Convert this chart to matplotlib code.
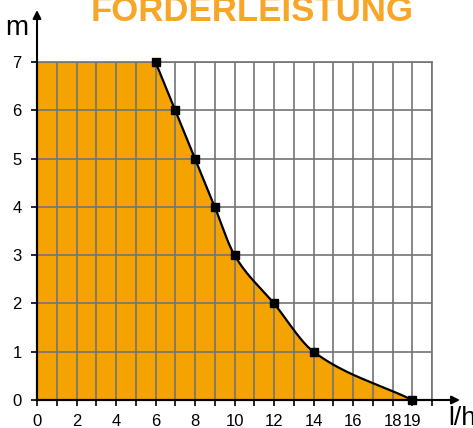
import numpy as np
import matplotlib.pyplot as plt

# pump curve: delivery head (m) over flow rate (l/h)
flow = [0, 6, 7, 8, 9, 10, 12, 14, 19]
head = [7, 7, 6, 5, 4, 3, 2, 1, 0]
marked_flow = [6, 7, 8, 9, 10, 12, 14, 19]
marked_head = [7, 6, 5, 4, 3, 2, 1, 0]
x_labels = [0, 2, 4, 6, 8, 10, 12, 14, 16, 18, 19]
y_labels = [0, 1, 2, 3, 4, 5, 6, 7]

FILL = "#F5A300"
TITLE = "#F7A628"


def monotone_curve(x, y, n=40):
    """Fritsch-Carlson monotone cubic through the given points."""
    x = np.asarray(x, float)
    y = np.asarray(y, float)
    h = np.diff(x)
    d = np.diff(y) / h
    m = np.zeros_like(x)
    for k in range(1, len(x) - 1):
        if d[k - 1] * d[k] > 0:
            w1 = 2 * h[k] + h[k - 1]
            w2 = h[k] + 2 * h[k - 1]
            m[k] = (w1 + w2) / (w1 / d[k - 1] + w2 / d[k])
    m[0] = d[0]
    m[-1] = d[-1]
    xs, ys = [], []
    for k in range(len(x) - 1):
        t = np.linspace(0, 1, n)
        h00 = 2 * t**3 - 3 * t**2 + 1
        h10 = t**3 - 2 * t**2 + t
        h01 = -2 * t**3 + 3 * t**2
        h11 = t**3 - t**2
        xs.append(x[k] + t * h[k])
        ys.append(h00 * y[k] + h10 * h[k] * m[k] + h01 * y[k + 1] + h11 * h[k] * m[k + 1])
    return np.concatenate(xs), np.concatenate(ys)


plt.rcParams["font.family"] = ["Liberation Sans", "DejaVu Sans"]

W, H = 473, 428
fig = plt.figure(figsize=(W / 100, H / 100), dpi=100)
ax = fig.add_axes([37 / W, 1 - 400 / H, 395 / W, 338 / H])

cx, cy = monotone_curve(marked_flow, marked_head)
fx = np.concatenate([[flow[0]], cx])
fy = np.concatenate([[head[0]], cy])
ax.fill_between(fx, fy, 0, color=FILL, lw=0, zorder=1)

ax.set_xlim(0, 20)
ax.set_ylim(0, 7)
ax.set_xticks(np.arange(0, 21))
ax.set_yticks(y_labels)
ax.set_xticklabels([str(v) if v in x_labels else "" for v in range(21)])
ax.set_yticklabels([str(v) for v in y_labels])
ax.grid(True, color="#737373", lw=1.2, zorder=2)
ax.set_axisbelow(False)
ax.tick_params(axis="both", direction="out", length=4, width=1.2,
               labelsize=12, colors="black")
ax.tick_params(axis="x", pad=6)
ax.tick_params(axis="y", pad=7)

ax.plot(cx, cy, color="black", lw=1.6, zorder=4)
ax.plot(marked_flow, marked_head, "s", color="black", ms=5.5, zorder=5,
        clip_on=False)

for s in ["top", "right"]:
    ax.spines[s].set_color("#737373")
    ax.spines[s].set_linewidth(1.2)
for s in ["left", "bottom"]:
    ax.spines[s].set_linewidth(1.5)
    ax.spines[s].set_zorder(6)

# axis arrows
ax.annotate("", xy=(460 / W, 1 - 400 / H), xytext=(37 / W, 1 - 400 / H),
            xycoords="figure fraction", textcoords="figure fraction",
            arrowprops=dict(arrowstyle="-|>", color="black", lw=1.5,
                            mutation_scale=12, shrinkA=0, shrinkB=0))
ax.annotate("", xy=(37 / W, 1 - 10 / H), xytext=(37 / W, 1 - 400 / H),
            xycoords="figure fraction", textcoords="figure fraction",
            arrowprops=dict(arrowstyle="-|>", color="black", lw=1.5,
                            mutation_scale=12, shrinkA=0, shrinkB=0))

fig.text(17 / W, 1 - 28 / H, "m", fontsize=20, ha="center", va="center")
fig.text(462 / W, 1 - 418 / H, "l/h", fontsize=19, ha="center", va="center")
fig.text(252 / W, 1 - 21 / H, "FÖRDERLEISTUNG", fontsize=25, fontweight="bold",
         color=TITLE, ha="center", va="baseline")

fig.savefig("out.png", dpi=100)
